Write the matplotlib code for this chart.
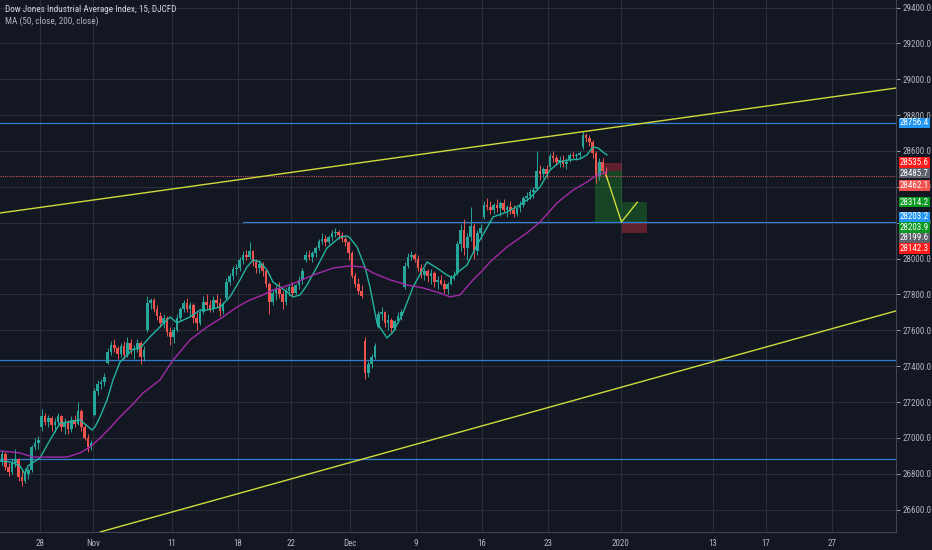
import matplotlib
matplotlib.use("Agg")
import matplotlib.pyplot as plt
import matplotlib.transforms as mtrans
from matplotlib.patches import Rectangle
import numpy as np

# ---------------- data ----------------
sessions = ["2019-10-23", "2019-10-24", "2019-10-25", "2019-10-28", "2019-10-29", "2019-10-30", "2019-10-31",
            "2019-11-01", "2019-11-04", "2019-11-05", "2019-11-06", "2019-11-07", "2019-11-08",
            "2019-11-11", "2019-11-12", "2019-11-13", "2019-11-14", "2019-11-15",
            "2019-11-18", "2019-11-19", "2019-11-20", "2019-11-21", "2019-11-22",
            "2019-11-25", "2019-11-26", "2019-11-27", "2019-11-29",
            "2019-12-02", "2019-12-03", "2019-12-04", "2019-12-05", "2019-12-06",
            "2019-12-09", "2019-12-10", "2019-12-11", "2019-12-12", "2019-12-13",
            "2019-12-16", "2019-12-17", "2019-12-18", "2019-12-19", "2019-12-20",
            "2019-12-23", "2019-12-24", "2019-12-26", "2019-12-27", "2019-12-30"]
half_days = ["2019-11-29", "2019-12-24"]
first_session_t = -3.0

opens = [26870, 26910, 26835, 26810,  26860, 26880, 26780, 26760,  26800, 26820, 26950, 26970,
         27060, 27120, 27090, 27110,  27070, 27090, 27120, 27060,  27090, 27050, 27100, 27080,
         27150, 27060, 27000, 26950,  27130, 27260, 27300, 27310,  27420, 27480, 27520, 27500,
         27470, 27510, 27460, 27530,  27490, 27500, 27530, 27450,  27600, 27750, 27770, 27720,
         27680, 27640, 27670, 27590,  27560, 27600, 27670, 27720,  27750, 27720, 27740, 27670,
         27640, 27700, 27760, 27740,  27720, 27770, 27750, 27710,  27780, 27870, 27900, 27940,
         27950, 27990, 28020, 28010,  28040, 27980, 27950, 27970,  27930, 27860, 27760, 27810,
         27830, 27800, 27760, 27820,  27840, 27810, 27850, 27880,  27990, 28020, 28010, 28030,
         28060, 28100, 28110, 28090,  28120, 28140, 28150, 28130,  28110, 28090,
         28030, 27900, 27860, 27820,  27540, 27360, 27410, 27450,  27620, 27690, 27700, 27640,
         27660, 27610, 27650, 27680,  27840, 27960, 28010, 28020,  28000, 27950, 27910, 27930,
         27900, 27920, 27870, 27880,  27860, 27830, 27860, 27900,  27920, 28080, 28160, 28060,
         28120, 28180, 28040, 28140,  28230, 28300, 28290, 28270,  28300, 28280, 28310, 28270,
         28290, 28270, 28250, 28280,  28300, 28340, 28350, 28370,  28390, 28490, 28470, 28500,
         28510, 28570, 28560, 28540,  28550, 28530,
         28550, 28580, 28570, 28580,  28620, 28690, 28670, 28650,  28590, 28460, 28540, 28490]
highs = [26935, 26920, 26860, 26880,  26940, 26890, 26820, 26830,  26830, 26960, 27000, 27010,
         27160, 27140, 27130, 27120,  27110, 27140, 27130, 27110,  27100, 27120, 27130, 27200,
         27160, 27080, 27020, 26990,  27280, 27320, 27330, 27360,  27500, 27540, 27550, 27510,
         27530, 27540, 27560, 27550,  27520, 27550, 27540, 27510,  27790, 27780, 27780, 27740,
         27700, 27690, 27680, 27620,  27620, 27690, 27730, 27770,  27780, 27760, 27750, 27700,
         27720, 27790, 27800, 27770,  27790, 27800, 27780, 27760,  27890, 27920, 27960, 27970,
         28010, 28040, 28050, 28090,  28050, 28000, 27990, 27980,  27940, 27870, 27830, 27850,
         27870, 27820, 27840, 27860,  27870, 27860, 27900, 27950,  28040, 28050, 28040, 28070,
         28110, 28140, 28130, 28130,  28160, 28170, 28160, 28150,  28130, 28100,
         28040, 27920, 27890, 27850,  27560, 27430, 27470, 27530,  27710, 27730, 27710, 27690,
         27670, 27660, 27700, 27720,  27980, 28030, 28040, 28030,  28020, 27970, 27950, 27940,
         27940, 27930, 27900, 27910,  27880, 27870, 27910, 27930,  28100, 28190, 28220, 28140,
         28290, 28200, 28160, 28190,  28320, 28340, 28320, 28310,  28330, 28320, 28330, 28300,
         28320, 28300, 28290, 28320,  28350, 28370, 28390, 28400,  28600, 28520, 28510, 28520,
         28590, 28600, 28580, 28570,  28580, 28560,
         28590, 28600, 28590, 28600,  28710, 28700, 28690, 28660,  28600, 28560, 28560, 28510]
lows = [26850, 26820, 26790, 26800,  26840, 26760, 26730, 26750,  26770, 26810, 26930, 26940,
        27040, 27070, 27060, 27040,  27030, 27080, 27040, 27020,  27020, 27030, 27060, 27070,
        27040, 26990, 26920, 26930,  27120, 27240, 27270, 27290,  27410, 27460, 27480, 27440,
        27450, 27440, 27450, 27470,  27440, 27480, 27410, 27430,  27590, 27720, 27700, 27660,
        27620, 27610, 27570, 27520,  27530, 27590, 27650, 27700,  27700, 27680, 27640, 27600,
        27630, 27690, 27720, 27700,  27700, 27730, 27680, 27690,  27770, 27850, 27880, 27910,
        27930, 27970, 27990, 28000,  27960, 27920, 27920, 27900,  27840, 27690, 27740, 27770,
        27780, 27720, 27740, 27790,  27790, 27800, 27830, 27860,  27980, 27990, 27980, 28010,
        28050, 28080, 28070, 28080,  28100, 28120, 28110, 28090,  28070, 27990,
        27890, 27840, 27800, 27780,  27330, 27340, 27390, 27440,  27610, 27660, 27620, 27600,
        27590, 27600, 27640, 27660,  27830, 27950, 27990, 27980,  27930, 27890, 27880, 27870,
        27860, 27840, 27830, 27850,  27810, 27800, 27850, 27880,  27910, 28040, 28020, 27990,
        28100, 28000, 28020, 28110,  28220, 28270, 28250, 28250,  28260, 28240, 28260, 28230,
        28250, 28230, 28240, 28260,  28290, 28320, 28330, 28340,  28380, 28440, 28450, 28450,
        28500, 28540, 28520, 28510,  28510, 28500,
        28540, 28560, 28550, 28560,  28610, 28650, 28630, 28560,  28420, 28440, 28470, 28450]
closes = [26910, 26835, 26810, 26860,  26880, 26780, 26760, 26800,  26820, 26950, 26970, 26990,
          27120, 27090, 27110, 27070,  27090, 27120, 27060, 27090,  27050, 27100, 27080, 27150,
          27060, 27000, 26950, 26970,  27260, 27300, 27310, 27340,  27480, 27520, 27500, 27470,
          27510, 27460, 27530, 27490,  27500, 27530, 27450, 27490,  27750, 27770, 27720, 27680,
          27640, 27670, 27590, 27560,  27600, 27670, 27720, 27750,  27720, 27740, 27670, 27640,
          27700, 27760, 27740, 27720,  27770, 27750, 27710, 27740,  27870, 27900, 27940, 27950,
          27990, 28020, 28010, 28040,  27980, 27950, 27970, 27930,  27860, 27760, 27810, 27830,
          27800, 27760, 27820, 27840,  27810, 27850, 27880, 27930,  28020, 28010, 28030, 28060,
          28100, 28110, 28090, 28120,  28140, 28150, 28130, 28110,  28090, 28030,
          27900, 27860, 27820, 27790,  27360, 27410, 27450, 27510,  27690, 27700, 27640, 27660,
          27610, 27650, 27680, 27700,  27960, 28010, 28020, 28000,  27950, 27910, 27930, 27900,
          27920, 27870, 27880, 27860,  27830, 27860, 27900, 27910,  28080, 28160, 28060, 28120,
          28180, 28040, 28140, 28170,  28300, 28290, 28270, 28300,  28280, 28310, 28270, 28290,
          28270, 28250, 28280, 28300,  28340, 28350, 28370, 28380,  28490, 28470, 28500, 28470,
          28570, 28560, 28540, 28550,  28530, 28540,
          28580, 28570, 28580, 28590,  28690, 28670, 28650, 28590,  28460, 28540, 28490, 28462.1]

# moving averages (trading-day index, price)
ma50_t = [-3.03, -2.27, -1.52, -1.14, -0.91, 0.0, 0.76, 1.52, 2.27, 3.03, 3.94, 4.17, 4.55, 5.08, 5.53,
          6.06, 6.97, 7.58, 8.33, 8.86, 9.85, 10.38, 11.36, 12.12, 12.65, 13.64, 14.39, 15.15, 15.68,
          16.14, 16.67, 17.2, 17.65, 18.18, 18.71, 19.17, 19.7, 20.23, 20.98, 21.74, 22.73, 23.26,
          23.48, 24.02, 24.62, 25.0, 25.53, 26.29, 26.74, 27.5, 28.26, 29.32, 30.08, 30.83, 31.29,
          31.59, 32.35, 33.11, 33.86, 34.32, 35.38, 36.36, 37.12, 37.88, 38.64, 39.39, 40.15, 40.91,
          41.44, 41.89, 42.27, 42.65, 42.95]
ma50_v = [26871, 26866, 26844, 26799, 26844, 26888, 26988, 27083, 27089, 27100, 27044, 27061, 27117,
          27211, 27323, 27423, 27490, 27501, 27563, 27602, 27674, 27641, 27674, 27713, 27713, 27730,
          27786, 27881, 27953, 27992, 27981, 27936, 27869, 27842, 27814, 27786, 27797, 27853, 27953,
          28059, 28120, 28126, 28115, 28065, 27953, 27841, 27641, 27557, 27590, 27696, 27841, 27981,
          27947, 27908, 27892, 27920, 27964, 28076, 28171, 28232, 28260, 28299, 28338, 28399, 28494,
          28539, 28550, 28555, 28578, 28622, 28617, 28594, 28578]
ma200_t = [-3.03, -1.52, -0.53, 0.76, 2.05, 3.03, 3.79, 4.55, 5.3, 6.06, 7.05, 7.8, 9.09, 10.08, 11.36,
           12.65, 13.86, 14.92, 15.91, 16.89, 17.65, 18.41, 19.47, 20.68, 22.2, 23.48, 24.47, 25.23,
           26.52, 27.8, 29.02, 30.3, 31.06, 31.82, 32.8, 33.56, 34.09, 35.38, 36.89, 37.88, 39.17,
           40.38, 41.44, 42.2, 42.95]
ma200_v = [26927, 26916, 26893, 26893, 26893, 26916, 26949, 26999, 27055, 27117, 27189, 27250, 27323,
           27434, 27546, 27618, 27674, 27730, 27769, 27797, 27825, 27841, 27869, 27908, 27947, 27959,
           27953, 27920, 27881, 27853, 27836, 27808, 27786, 27797, 27881, 27936, 27981, 28065, 28143,
           28204, 28310, 28382, 28427, 28466, 28483]

# drawings
hline_prices = [28756.4, 28203.2, 27435.5, 26880.2]
hline_start_t = [-4.0, 15.4, -4.0, -4.0]
upper_trend_t = [-3.03, 64.85]
upper_trend_p = [28254, 28951]
lower_trend_t = [4.55, 64.85]
lower_trend_p = [26475, 27708]
last_price = 28462.1

short_t = [42.05, 44.1]
short_entry, short_stop, short_target = 28485.7, 28535.6, 28203.9
long_t = [44.1, 46.0]
long_entry, long_target, long_stop = 28199.6, 28314.2, 28142.3
path_t = [42.9, 44.05, 45.25]
path_p = [28462.1, 28203.9, 28314.2]

xtick_t = [0, 4, 10, 15, 19, 23.5, 28.5, 33.5, 38.5, 44, 51, 55, 60]
xtick_labels = ["28", "Nov", "11", "18", "22", "Dec", "9", "16", "23", "2020", "13", "17", "27"]
ytick_values = [26600, 26800, 27000, 27200, 27400, 27600, 27800, 28000, 28200, 28400,
                28600, 28800, 29000, 29200, 29400]

label_prices = [28756.4, 28535.6, 28485.7, 28462.1, 28314.2, 28203.2, 28203.9, 28199.6, 28142.3]

title_text = "Dow Jones Industrial Average Index, 15, DJCFD"
ma_text = "MA (50, close, 200, close)"

# ---------------- style ----------------
BG = "#131722"
GRID = "#2a2e39"
TXT = "#b2b5be"
UP = "#26a69a"
DOWN = "#ef5350"
BLUE = "#2e7fd4"
YEL = "#cfdc3c"
label_colors = ["#2196f3", "#ff1a1a", "#5d606b", "#ef5350", "#0a9a22", "#2196f3", "#0a9a22", "#5d606b", "#ff1a1a"]
label_nudge_px = [0, 0, 1.8, 10, 0, -5.2, 5.4, 15.1, 15.5]
FONT = ["Roboto Condensed", "Liberation Sans Narrow", "Liberation Sans", "DejaVu Sans"]
AXFS = 6.5

W, H = 932, 550
fig = plt.figure(figsize=(W / 100, H / 100), dpi=100, facecolor=BG)
ax = fig.add_axes([0, (H - 532) / H, 896 / W, 532 / H], facecolor=BG)

# candle positions from session calendar
cx = []
t = first_session_t
for d in sessions:
    w = 0.5 if d in half_days else 1.0
    n = 2 if d in half_days else 4
    for k in range(n):
        cx.append(t + (k + 0.5) * w / n)
    t += w
cx = np.array(cx)
o, hi, lo, c = (np.array(a, dtype=float) for a in (opens, highs, lows, closes))
assert len(cx) == len(o) == len(hi) == len(lo) == len(c)
up = c >= o
cols = np.where(up, UP, DOWN)

ax.vlines(cx, lo, hi, colors=cols, lw=0.7, zorder=3)
ax.bar(cx, np.maximum(np.abs(c - o), 4), bottom=np.minimum(o, c), width=0.2,
       color=cols, linewidth=0, zorder=3)

ax.plot(ma50_t, ma50_v, color="#22b3a0", lw=1.0, zorder=4)
ax.plot(ma200_t, ma200_v, color="#a22aa8", lw=1.0, zorder=4)

# horizontal lines
for p, s in zip(hline_prices, hline_start_t):
    ax.plot([s, 70], [p, p], color=BLUE, lw=0.9, zorder=2)
ax.axhline(last_price, color="#c25560", lw=0.8, ls=(0, (1, 1)), zorder=2)

# trend lines
ax.plot(upper_trend_t, upper_trend_p, color=YEL, lw=1.0, zorder=5)
ax.plot(lower_trend_t, lower_trend_p, color=YEL, lw=1.0, zorder=5)

# position tools
ax.add_patch(Rectangle((short_t[0], short_entry), short_t[1] - short_t[0], short_stop - short_entry,
                       fc="#f23645", alpha=0.35, ec="none", zorder=1))
ax.add_patch(Rectangle((short_t[0], short_target), short_t[1] - short_t[0], short_entry - short_target,
                       fc="#1f9a2c", alpha=0.35, ec="none", zorder=1))
ax.add_patch(Rectangle((long_t[0], long_entry), long_t[1] - long_t[0], long_target - long_entry,
                       fc="#1f9a2c", alpha=0.35, ec="none", zorder=1))
ax.add_patch(Rectangle((long_t[0], long_stop), long_t[1] - long_t[0], long_entry - long_stop,
                       fc="#f23645", alpha=0.35, ec="none", zorder=1))
ax.plot(path_t, path_p, color=YEL, lw=1.0, zorder=5)

# axes
ax.set_xlim(-3.03, 64.85)
ax.set_ylim(26475, 29442)
ax.set_xticks(xtick_t)
ax.set_xticklabels(xtick_labels)
ax.set_yticks(ytick_values)
ax.set_yticklabels([f"{v:.1f}" for v in ytick_values])
ax.yaxis.tick_right()
ax.tick_params(axis="y", colors=TXT, labelsize=AXFS, length=3, width=0.6, pad=2)
ax.tick_params(axis="x", colors=TXT, labelsize=AXFS, length=0, pad=5)
for lab in ax.get_xticklabels() + ax.get_yticklabels():
    lab.set_family(FONT)
ax.grid(True, color=GRID, lw=0.8, zorder=0)
ax.set_axisbelow(True)
for s in ("top", "left"):
    ax.spines[s].set_visible(False)
ax.spines["right"].set_color("#434651")
ax.spines["bottom"].set_color("#434651")
ax.spines["right"].set_linewidth(0.8)
ax.spines["bottom"].set_linewidth(0.8)

# price labels on the axis
blend = mtrans.blended_transform_factory(ax.transAxes, ax.transData)
for p, col, nud in zip(label_prices, label_colors, label_nudge_px):
    tr = mtrans.offset_copy(blend, fig=fig, x=0, y=-nud * 72 / 100, units="points")
    ax.text(1.0 + 4.0 / 896, p, f"{p:.1f}", transform=tr, ha="left", va="center",
            fontsize=AXFS, family=FONT, color="white", zorder=10, clip_on=False,
            bbox=dict(boxstyle="square,pad=0.08", fc=col, ec="none"))

fig.text(5 / W, 1 - 9.5 / H, title_text, fontsize=6.6, color="#d1d4dc", va="center", ha="left",
         family=FONT)
fig.text(5 / W, 1 - 21.5 / H, ma_text, fontsize=6.6, color=TXT, va="center", ha="left", family=FONT)

fig.savefig("out.png", dpi=100, facecolor=BG)
